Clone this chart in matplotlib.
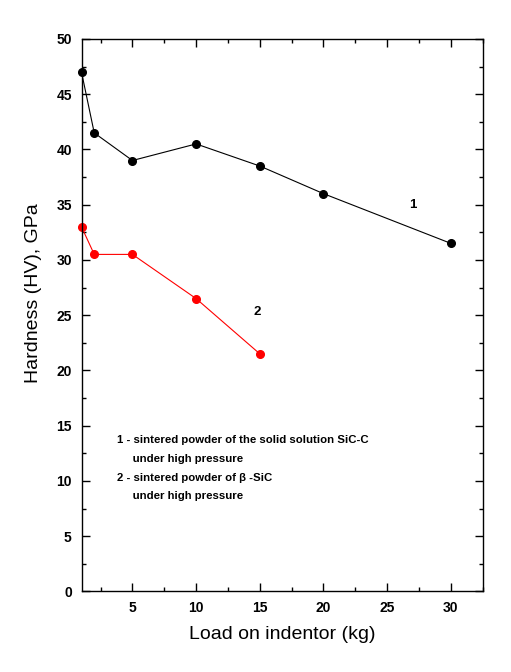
import matplotlib
matplotlib.use('Agg')
import matplotlib.pyplot as plt
from matplotlib.ticker import MultipleLocator

plt.rcParams['font.family'] = ['Liberation Sans', 'DejaVu Sans']

# Data
load1 = [1, 2, 5, 10, 15, 20, 30]
hv1 = [47, 41.5, 39, 40.5, 38.5, 36, 31.5]
load2 = [1, 2, 5, 10, 15]
hv2 = [33, 30.5, 30.5, 26.5, 21.5]

legend_lines = ['1 - sintered powder of the solid solution SiC-C',
                '     under high pressure',
                '2 - sintered powder of \u03b2 -SiC',
                '     under high pressure']

fig = plt.figure(figsize=(5.11, 6.72), dpi=100)
ax = fig.add_axes([0.1595, 0.120, 0.785, 0.822])

ax.plot(load1, hv1, color='black', lw=0.8, marker='o', markersize=5.5, clip_on=False)
ax.plot(load2, hv2, color='red', lw=0.8, marker='o', markersize=5.5, clip_on=False)

ax.text(27, 35, '1', fontsize=9.5, fontweight='bold', ha='center', va='center')
ax.text(14.8, 25.3, '2', fontsize=9.5, fontweight='bold', ha='center', va='center')

y0 = 440
for i, s in enumerate(legend_lines):
    fig.text(117 / 511, 1 - (y0 + i * 18.8) / 672, s, fontsize=8.2,
             fontweight='bold', ha='left', va='center')

ax.set_xlim(1, 32.5)
ax.set_ylim(0, 50)
ax.xaxis.set_major_locator(MultipleLocator(5))
ax.xaxis.set_minor_locator(MultipleLocator(2.5))
ax.yaxis.set_major_locator(MultipleLocator(5))
ax.yaxis.set_minor_locator(MultipleLocator(2.5))
ax.tick_params(which='both', direction='in', top=True, right=True, width=1)
ax.tick_params(which='major', length=6, labelsize=10, pad=7)
ax.tick_params(which='minor', length=3)
for lab in ax.get_xticklabels() + ax.get_yticklabels():
    lab.set_fontweight('bold')
for sp in ax.spines.values():
    sp.set_linewidth(1)

ax.set_xlabel('Load on indentor (kg)', fontsize=14, labelpad=8)
ax.set_ylabel('Hardness (HV), GPa', fontsize=14)
ax.yaxis.set_label_coords(-0.0985, 0.54)

fig.savefig('out.png', dpi=100)
